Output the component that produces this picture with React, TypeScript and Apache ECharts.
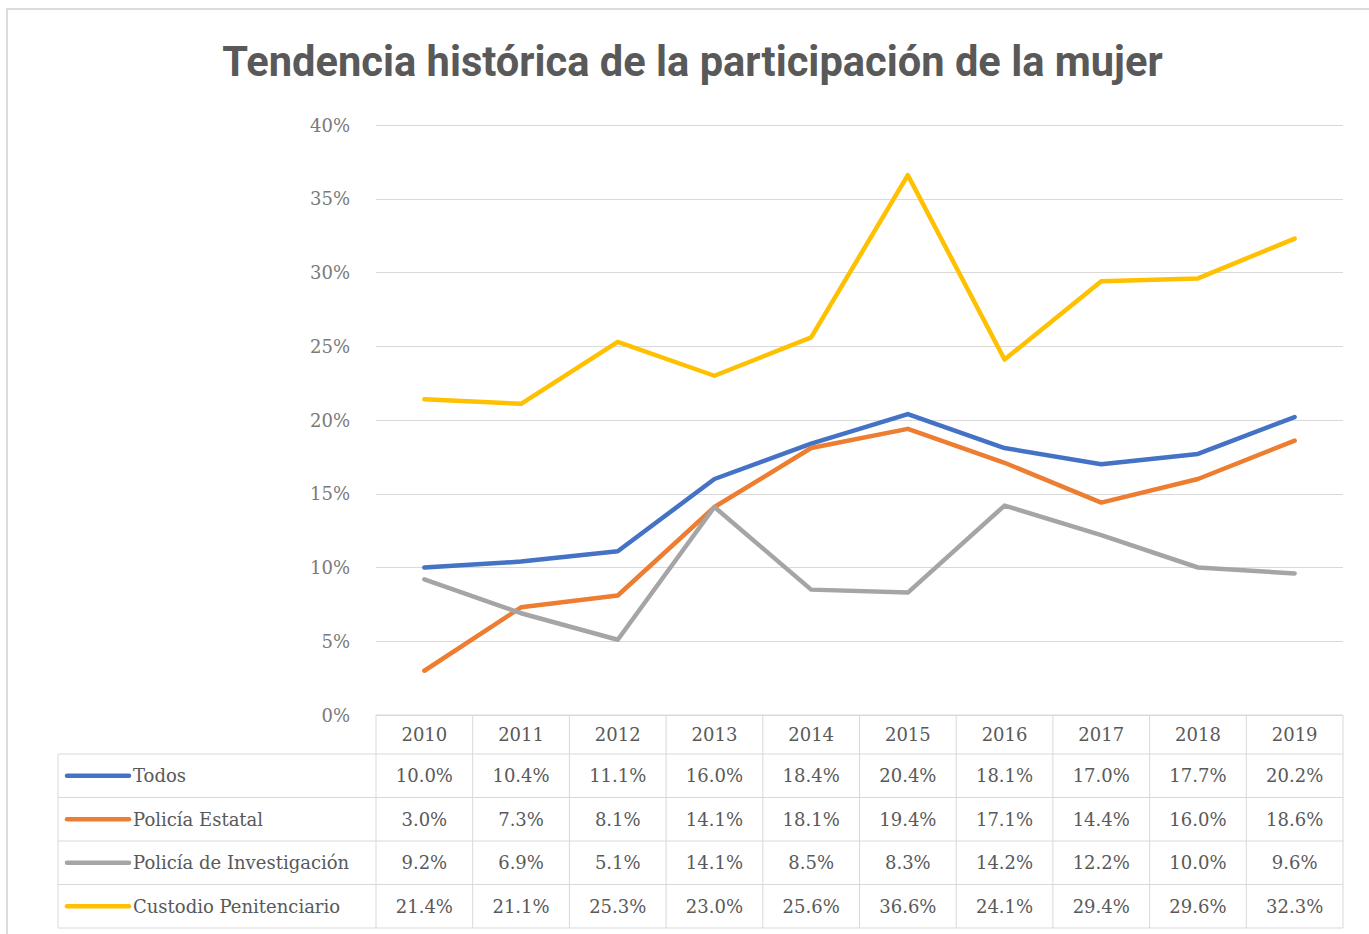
import React, { useEffect, useRef } from "react";
import * as echarts from "echarts";

const titleText = "Tendencia histórica de la participación de la mujer";
const years = ["2010", "2011", "2012", "2013", "2014", "2015", "2016", "2017", "2018", "2019"];
const todos = [10.0, 10.4, 11.1, 16.0, 18.4, 20.4, 18.1, 17.0, 17.7, 20.2];
const policiaEstatal = [3.0, 7.3, 8.1, 14.1, 18.1, 19.4, 17.1, 14.4, 16.0, 18.6];
const policiaInvestigacion = [9.2, 6.9, 5.1, 14.1, 8.5, 8.3, 14.2, 12.2, 10.0, 9.6];
const custodio = [21.4, 21.1, 25.3, 23.0, 25.6, 36.6, 24.1, 29.4, 29.6, 32.3];
const seriesNames = ["Todos", "Policía Estatal", "Policía de Investigación", "Custodio Penitenciario"];
const seriesData = [todos, policiaEstatal, policiaInvestigacion, custodio];
const seriesColors = ["#4472C4", "#ED7D31", "#A5A5A5", "#FFC000"];
const yMin = 0;
const yMax = 40;
const yInterval = 5;

export default function App() {
  const ref = useRef<HTMLDivElement>(null);
  useEffect(() => {
    if (!ref.current) return;
    const chart = echarts.init(ref.current, null, { renderer: "svg" });
    const gridLeft = 376;
    const gridTop = 125;
    const gridW = 967;
    const gridH = 590;
    const serif = "'DejaVu Serif', serif";
    const tableColor = "#595959";
    const lineColor = "#D9D9D9";

    chart.setOption({
      animation: false,
      backgroundColor: "#ffffff",
      grid: { left: gridLeft, top: gridTop, width: gridW, height: gridH, containLabel: false },
      xAxis: {
        type: "category",
        data: years,
        boundaryGap: true,
        axisLine: { show: false },
        axisTick: { show: false },
        axisLabel: { show: false },
        splitLine: { show: false },
      },
      yAxis: {
        type: "value",
        min: yMin,
        max: yMax,
        interval: yInterval,
        axisLine: { show: false },
        axisTick: { show: false },
        axisLabel: {
          formatter: "{value}%",
          margin: 26,
          fontFamily: serif,
          fontSize: 18,
          color: "#7a7a7a",
        },
        splitLine: { lineStyle: { color: lineColor, width: 1 } },
      },
      series: seriesNames.map((name, i) => ({
        name,
        type: "line",
        data: seriesData[i],
        symbol: "none",
        lineStyle: { color: seriesColors[i], width: 4.5, cap: "round", join: "round" },
        itemStyle: { color: seriesColors[i] },
        z: 2,
      })),
    });

    // measure title to fit reference width
    let titleScale = 1;
    try {
      const ctx = document.createElement("canvas").getContext("2d");
      if (ctx) {
        ctx.font = "bold 42px Roboto";
        const w = ctx.measureText(titleText).width;
        if (w > 0) titleScale = 941 / w;
      }
    } catch (e) {}

    const band = gridW / years.length;
    const centers = years.map((_, i) => {
      const p = chart.convertToPixel({ xAxisIndex: 0 }, i);
      return typeof p === "number" ? p : gridLeft + band * (i + 0.5);
    });
    const tableTop = gridTop + gridH;
    const rowEdges = [tableTop, tableTop + 39, tableTop + 82.5, tableTop + 126, tableTop + 169.5, tableTop + 213];
    const tableLeft = 58;
    const tableRight = gridLeft + gridW;

    const g: any[] = [];
    g.push({
      type: "rect",
      shape: { x: 7, y: 9, width: 1400, height: 1000 },
      style: { fill: "none", stroke: "#DCDCDC", lineWidth: 2 },
      silent: true,
      z: 0,
    });
    g.push({
      type: "text",
      x: 692.5,
      y: 61,
      scaleX: titleScale,
      style: {
        text: titleText,
        font: "bold 42px Roboto",
        fill: "#595959",
        align: "center",
        verticalAlign: "middle",
      },
    });
    // horizontal lines
    rowEdges.forEach((y, k) => {
      g.push({
        type: "line",
        shape: { x1: k === 0 ? gridLeft : tableLeft, y1: y, x2: tableRight, y2: y },
        style: { stroke: lineColor, lineWidth: 1 },
        silent: true,
      });
    });
    // vertical lines
    g.push({
      type: "line",
      shape: { x1: tableLeft, y1: rowEdges[1], x2: tableLeft, y2: rowEdges[5] },
      style: { stroke: lineColor, lineWidth: 1 },
    });
    for (let i = 0; i <= years.length; i++) {
      const x = gridLeft + band * i;
      g.push({
        type: "line",
        shape: { x1: x, y1: rowEdges[0], x2: x, y2: rowEdges[5] },
        style: { stroke: lineColor, lineWidth: 1 },
      });
    }
    // header
    years.forEach((yr, i) => {
      g.push({
        type: "text",
        x: centers[i],
        y: (rowEdges[0] + rowEdges[1]) / 2,
        style: { text: yr, font: `18px ${serif}`, fill: tableColor, align: "center", verticalAlign: "middle" },
      });
    });
    // rows
    seriesNames.forEach((name, r) => {
      const yc = (rowEdges[r + 1] + rowEdges[r + 2]) / 2;
      g.push({
        type: "line",
        shape: { x1: 67, y1: yc, x2: 129, y2: yc },
        style: { stroke: seriesColors[r], lineWidth: 4.5, lineCap: "round" },
      });
      g.push({
        type: "text",
        x: 133,
        y: yc,
        style: { text: name, font: `18px ${serif}`, fill: tableColor, align: "left", verticalAlign: "middle" },
      });
      seriesData[r].forEach((v, i) => {
        g.push({
          type: "text",
          x: centers[i],
          y: yc,
          style: {
            text: v.toFixed(1) + "%",
            font: `18px ${serif}`,
            fill: tableColor,
            align: "center",
            verticalAlign: "middle",
          },
        });
      });
    });

    chart.setOption({ graphic: { elements: g } });

    return () => chart.dispose();
  }, []);
  return (
    <div
      ref={ref}
      style={{ position: "absolute", left: 0, top: 0, width: 1369, height: 934, background: "#fff" }}
    />
  );
}
